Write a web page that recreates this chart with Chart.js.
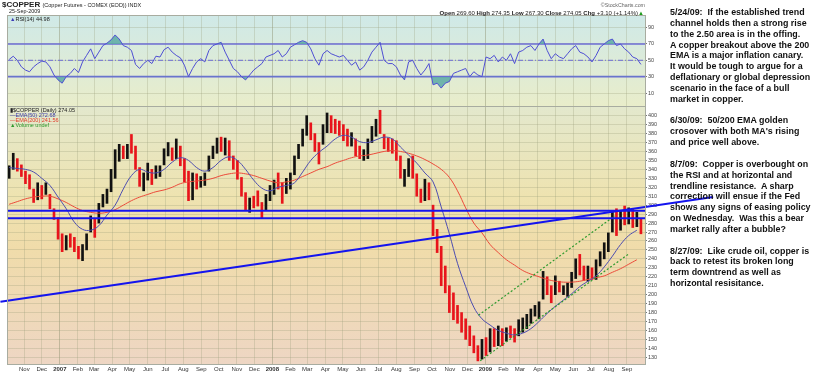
<!DOCTYPE html>
<html><head><meta charset="utf-8">
<script src="https://cdn.jsdelivr.net/npm/chart.js@4/dist/chart.umd.min.js"></script>
<style>
html,body{margin:0;padding:0;background:#fff;overflow:hidden;}
#wrap{position:relative;width:820px;height:374px;overflow:hidden;font-family:"Liberation Sans",Arial,sans-serif;}
canvas{position:absolute;left:0;top:0;}
.t{position:absolute;white-space:pre;color:#222;line-height:1;}
#notes{position:absolute;left:670px;top:7px;width:170px;font-weight:bold;font-size:8.9px;line-height:10.85px;color:#111;white-space:pre;}
.leg{position:absolute;left:10px;font-size:5.5px;white-space:pre;line-height:1;}
</style></head><body>
<div id="wrap">
<canvas id="c" width="820" height="374"></canvas>
<div class="t" style="left:2px;top:1px;font-size:8px;font-weight:bold;">$COPPER <span style="font-size:5.5px;font-weight:normal;">(Copper Futures - COMEX (EOD)) INDX</span></div>
<div class="t" style="left:9px;top:9px;font-size:5.4px;">25-Sep-2009</div>
<div class="t" style="right:175px;top:2.5px;font-size:5.3px;color:#666;">©StockCharts.com</div>
<div class="t" style="right:176px;top:9.5px;font-size:6px;"><b>Open</b> 269.60 <b>High</b> 274.35 <b>Low</b> 267.30 <b>Close</b> 274.05 <b>Chg</b> +3.10 (+1.14%)<span style="color:#1a9a1a">▲</span></div>
<div class="leg" style="top:16.5px;color:#222;"><span style="color:#3b3bb8">▲</span>RSI(14) 44.98</div>
<div class="leg" style="top:107.5px;color:#222;">▮$COPPER (Daily) 274.05</div>
<div class="leg" style="top:112.8px;color:#3c3ca8;">—EMA(50) 272.68</div>
<div class="leg" style="top:118.1px;color:#e03a2a;">—EMA(200) 241.56</div>
<div class="leg" style="top:123.4px;color:#2e9a2e;">▲Volume undef</div>
<div id="notes">5/24/09:  If the established trend
channel holds then a strong rise
to the 2.50 area is in the offing.
A copper breakout above the 200
EMA is a major inflation canary.
It would be tough to argue for a
deflationary or global depression
scenario in the face of a bull
market in copper.

6/30/09:  50/200 EMA golden
crosover with both MA's rising
and price well above.

8/7/09:  Copper is overbought on
the RSI and at horizontal and
trendline resistance.  A sharp
correction will ensue if the Fed
shows any signs of easing policy
on Wednesday.  Was this a bear
market rally after a bubble?

8/27/09:  Like crude oil, copper is
back to retest its broken long
term downtrend as well as
horizontal resisitance.</div>
</div>
<script>
// ---- data (weekly) ----
const firstWeek = '2006-10-06';
const weekHigh = [344,358,352,345,338,334,318,325,322,325,
312,296,286,268,266,268,264,254,256,268,
288,285,302,312,318,340,362,368,366,368,
379,366,342,336,347,340,344,344,363,370,
364,374,366,352,338,336,335,332,336,355,
366,375,376,375,372,355,350,331,314,308,
310,316,303,312,322,328,336,325,330,336,
355,368,385,400,392,380,370,390,403,400,
396,394,390,385,381,374,366,362,374,388,
396,406,379,375,374,372,355,340,352,355,
335,318,329,325,300,273,254,232,210,202,
188,180,173,165,154,143,150,152,162,162,
165,162,163,165,162,172,174,178,184,188,
192,226,220,210,221,215,210,213,225,240,
245,232,232,230,239,248,258,269,292,296,
294,299,297,296,292,285];
const weekLow = [330,340,338,332,324,318,303,306,307,312,
296,284,262,248,250,253,248,240,238,250,
270,264,280,298,302,315,330,349,352,352,
358,340,321,316,328,323,330,332,345,355,
350,352,344,326,305,306,318,320,322,338,
352,358,360,356,350,340,329,310,295,292,
297,299,286,295,305,312,318,302,313,318,
334,352,366,378,373,360,346,368,381,381,
380,378,372,366,366,355,352,350,352,370,
377,380,363,360,358,350,330,321,332,330,
310,303,305,306,266,247,210,202,180,172,
168,158,150,143,135,126,128,132,136,142,
143,143,148,152,147,154,158,162,168,176,
173,195,200,191,200,203,200,198,208,218,
222,216,215,217,217,232,240,248,270,266,
272,278,279,275,276,268];
const weekClose = [340,345,340,334,328,322,310,318,312,318,
300,288,265,255,262,258,250,245,250,262,
280,270,298,305,312,335,355,360,356,365,
362,345,328,332,335,330,338,340,360,360,
358,365,350,335,315,325,322,330,334,350,
362,370,365,368,354,345,333,315,298,305,
302,300,295,308,318,325,322,310,325,330,
350,365,382,385,378,365,362,385,390,388,
385,380,376,370,372,360,356,360,370,385,
392,382,370,365,362,355,335,336,348,335,
315,308,322,310,270,250,215,210,185,178,
175,162,155,150,140,130,145,140,158,150,
155,148,160,155,150,168,170,175,182,185,
190,210,205,198,215,205,208,210,222,235,
228,220,228,222,235,245,255,265,285,280,
290,285,292,280,285,274.05];
const rsi14 = [51,55,50,42,38,36,42,46,49,48,
42,32,26,22,30,34,40,35,48,56,
64,52,60,68,71,75,81,76,68,66,
62,45,40,46,50,46,55,54,63,66,
60,56,53,44,30,40,48,52,48,62,
68,70,72,60,50,40,36,30,26,32,
38,42,46,54,56,58,62,54,58,66,
69,72,74,72,64,52,44,58,62,58,
56,54,56,50,44,48,38,42,50,60,
66,72,50,46,46,42,32,26,48,50,
40,32,38,46,20,22,16,22,24,34,
36,38,40,30,36,32,30,54,52,56,
48,54,50,58,46,60,62,66,68,62,
70,76,62,52,58,54,52,58,64,68,
60,58,54,48,56,66,70,74,76,68,
70,64,60,54,52,44.98];
// bi-weekly EMA readings
const ema50 = [342,341,340,337,330,322,309,296,281,273,
272,277,289,300,318,333,340,337,336,340,
348,353,350,342,338,342,350,354,350,340,
328,319,316,320,322,325,337,350,359,366,
374,378,376,371,370,373,376,374,365,356,
347,336,326,298,268,235,209,186,173,166,
160,157,155,157,162,170,179,187,194,201,
209,215,221,231,243,256,266,272];
const ema200 = [301,304,307,309,310,310,307,303,298,294,
292,291,292,295,300,305,309,312,315,317,
320,324,326,327,328,330,333,335,336,335,
333,330,327,325,326,328,332,336,340,343,
347,350,353,355,356,358,360,361,360,358,
355,351,346,340,331,316,297,280,269,256,
247,239,233,227,223,220,217,215,214,214,
215,217,219,221,225,229,234,239];
const firstMonth = '2006-11-01';
const monthLabels = ['Nov','Dec','2007','Feb','Mar','Apr','May','Jun','Jul','Aug','Sep','Oct','Nov','Dec',
'2008','Feb','Mar','Apr','May','Jun','Jul','Aug','Sep','Oct','Nov','Dec',
'2009','Feb','Mar','Apr','May','Jun','Jul','Aug','Sep'];
const priceTicks = [130,140,150,160,170,180,190,200,210,220,230,240,250,260,270,280,290,300,310,320,330,340,350,360,370,380,390,400];
const rsiTicks = [10,30,50,70,90];
const rsiLevels = [70,50,30];
const resistance = [293.7, 285.4];
const trendLine = [['2006-09-21',192.1],['2010-01-27',309.1]];
const channelUpper = [['2008-12-20',177],['2009-08-11',288]];
const channelLower = [['2008-12-23',126.2],['2009-09-03',245]];
const xRange = ['2006-10-04','2009-10-02'];
const priceRange = [121.4, 410.8];
const rsiRange = [-5.9, 105.4];

// ---- helpers ----
const F = "'Liberation Sans', Arial, sans-serif";
const DAY0 = Date.UTC(2006, 9, 1);
const dayOf = s => (Date.parse(s + 'T00:00:00Z') - DAY0) / 864e5;
const w0 = dayOf(firstWeek);
const weekDay = weekHigh.map((_, k) => w0 + 7 * k);
const emaDay = ema50.map((_, j) => w0 + 14 * j);
const m0 = new Date(firstMonth + 'T00:00:00Z');
const monthDay = monthLabels.map((_, i) => (Date.UTC(m0.getUTCFullYear(), m0.getUTCMonth() + i, 1) - DAY0) / 864e5);
const xMin = dayOf(xRange[0]), xMax = dayOf(xRange[1]);
const isYear = i => /^\d{4}$/.test(monthLabels[i] || '');
const seg = (pts) => pts.map(p => ({x: dayOf(p[0]), y: p[1]}));
const hline = (v) => [{x: xMin, y: v}, {x: xMax, y: v}];
const TEAL = 'rgba(92,170,165,0.85)';

const datasets = [
  ...resistance.map(v => ({type:'line', yAxisID:'y', data: hline(v), borderColor:'#1414ee', borderWidth:2, pointRadius:0, order:1})),
  {type:'line', yAxisID:'y', data: seg(trendLine), borderColor:'#1414ee', borderWidth:2, pointRadius:0, clip:false, order:1},
  {type:'line', yAxisID:'y', data: seg(channelUpper), borderColor:'#2f9a2f', borderWidth:1.2, borderDash:[2,2], pointRadius:0, order:3},
  {type:'line', yAxisID:'y', data: seg(channelLower), borderColor:'#2f9a2f', borderWidth:1.2, borderDash:[2,2], pointRadius:0, order:3},
  {type:'line', yAxisID:'y', data: ema50.map((v, j) => ({x: emaDay[j], y: v})), borderColor:'#4d4db0', borderWidth:1, pointRadius:0, tension:0.4, order:4},
  {type:'line', yAxisID:'y', data: ema200.map((v, j) => ({x: emaDay[j], y: v})), borderColor:'#ec4a3a', borderWidth:1, pointRadius:0, tension:0.4, order:5},
  {type:'bar', yAxisID:'y', xAxisID:'x',
    data: weekHigh.map((h, k) => ({x: weekDay[k], y: [weekLow[k], h]})),
    backgroundColor: ctx => (ctx.dataIndex > 0 && weekClose[ctx.dataIndex] < weekClose[ctx.dataIndex - 1]) ? '#e8141b' : '#111111',
    barThickness: 2, borderWidth: 0, order: 10},
  {type:'line', yAxisID:'yR', data: rsi14.map((v, k) => ({x: weekDay[k], y: v})), borderColor:'#4f4fd4', borderWidth:1, pointRadius:0,
    fill:{target:{value:70}, above:TEAL, below:'rgba(0,0,0,0)'}, order:2},
  {type:'line', yAxisID:'yR', data: rsi14.map((v, k) => ({x: weekDay[k], y: v})), borderColor:'rgba(0,0,0,0)', borderWidth:0, pointRadius:0,
    fill:{target:{value:30}, above:'rgba(0,0,0,0)', below:TEAL}, order:6},
  ...rsiLevels.map(v => ({type:'line', yAxisID:'yR', data: hline(v), borderColor:'#6c6cd4', borderWidth: v === 50 ? 1 : 1.6,
    borderDash: v === 50 ? [5,2,1,2] : [], pointRadius:0, order:7}))
];

const panels = {
  id: 'panels',
  beforeDraw(chart) {
    const {ctx, chartArea: ca, scales} = chart;
    const r = scales.yR, p = scales.y;
    ctx.save();
    let g = ctx.createLinearGradient(0, r.top, 0, r.bottom);
    g.addColorStop(0, '#cfe9e8'); g.addColorStop(1, '#e9edca');
    ctx.fillStyle = g; ctx.fillRect(ca.left, r.top, ca.right - ca.left, r.bottom - r.top);
    g = ctx.createLinearGradient(0, p.top, 0, p.bottom);
    g.addColorStop(0, '#e3e8cd'); g.addColorStop(0.35, '#eee3b0'); g.addColorStop(0.55, '#f0dcaa'); g.addColorStop(1, '#eed6c4');
    ctx.fillStyle = g; ctx.fillRect(ca.left, p.top, ca.right - ca.left, p.bottom - p.top);
    ctx.restore();
  },
  afterDraw(chart) {
    const {ctx, chartArea: ca, scales} = chart;
    const r = scales.yR, p = scales.y;
    ctx.save();
    ctx.strokeStyle = '#a8aca0'; ctx.lineWidth = 1;
    ctx.strokeRect(Math.round(ca.left) - 0.5, Math.round(r.top) + 0.5, Math.round(ca.right - ca.left) + 1, Math.round(r.bottom - r.top));
    ctx.strokeRect(Math.round(ca.left) - 0.5, Math.round(p.top) + 0.5, Math.round(ca.right - ca.left) + 1, Math.round(p.bottom - p.top) - 1);
    ctx.restore();
  }
};

const gridCol = 'rgba(150,155,120,0.28)';
const yTicks = { autoSkip:false, padding:1, color:'#444', font:{family:F, size:5.5}, callback: v => String(v) };
new Chart(document.getElementById('c'), {
  type: 'bar',
  data: { datasets },
  options: {
    responsive: false, animation: false, events: [],
    layout: { padding: { left: 8, top: 15, right: 153, bottom: 0 } },
    plugins: { legend: {display:false}, tooltip: {enabled:false} },
    scales: {
      x: {
        type:'linear', min:xMin, max:xMax, offset:false,
        afterBuildTicks: s => { s.ticks = monthDay.map(v => ({value: v})); },
        afterFit: s => { s.height = 9; },
        grid: { offset:false, drawTicks:false, color: ctx => (ctx.type === 'tick' && isYear(ctx.index)) ? 'rgba(140,145,110,0.45)' : gridCol },
        border: { display:false },
        ticks: { autoSkip:false, maxRotation:0, padding:1, color:'#333',
          callback: (v, i) => monthLabels[i],
          font: ctx => ({family:F, size:6, weight: isYear(ctx.index) ? 'bold' : 'normal'}) }
      },
      yR: {
        type:'linear', axis:'y', position:'right', stack:'panels', stackWeight:91,
        min:rsiRange[0], max:rsiRange[1],
        afterBuildTicks: s => { s.ticks = rsiTicks.map(v => ({value: v})); },
        afterFit: s => { s.width = 22; },
        grid: { color: gridCol, drawTicks:true, tickLength:2, tickColor:'#777' },
        border: { display:false },
        ticks: yTicks
      },
      y: {
        type:'linear', axis:'y', position:'right', stack:'panels', stackWeight:259,
        min:priceRange[0], max:priceRange[1],
        afterBuildTicks: s => { s.ticks = priceTicks.map(v => ({value: v})); },
        afterFit: s => { s.width = 22; },
        grid: { color: gridCol, drawTicks:true, tickLength:2, tickColor:'#777' },
        border: { display:false },
        ticks: yTicks
      }
    }
  },
  plugins: [panels]
});
</script>
</body></html>
